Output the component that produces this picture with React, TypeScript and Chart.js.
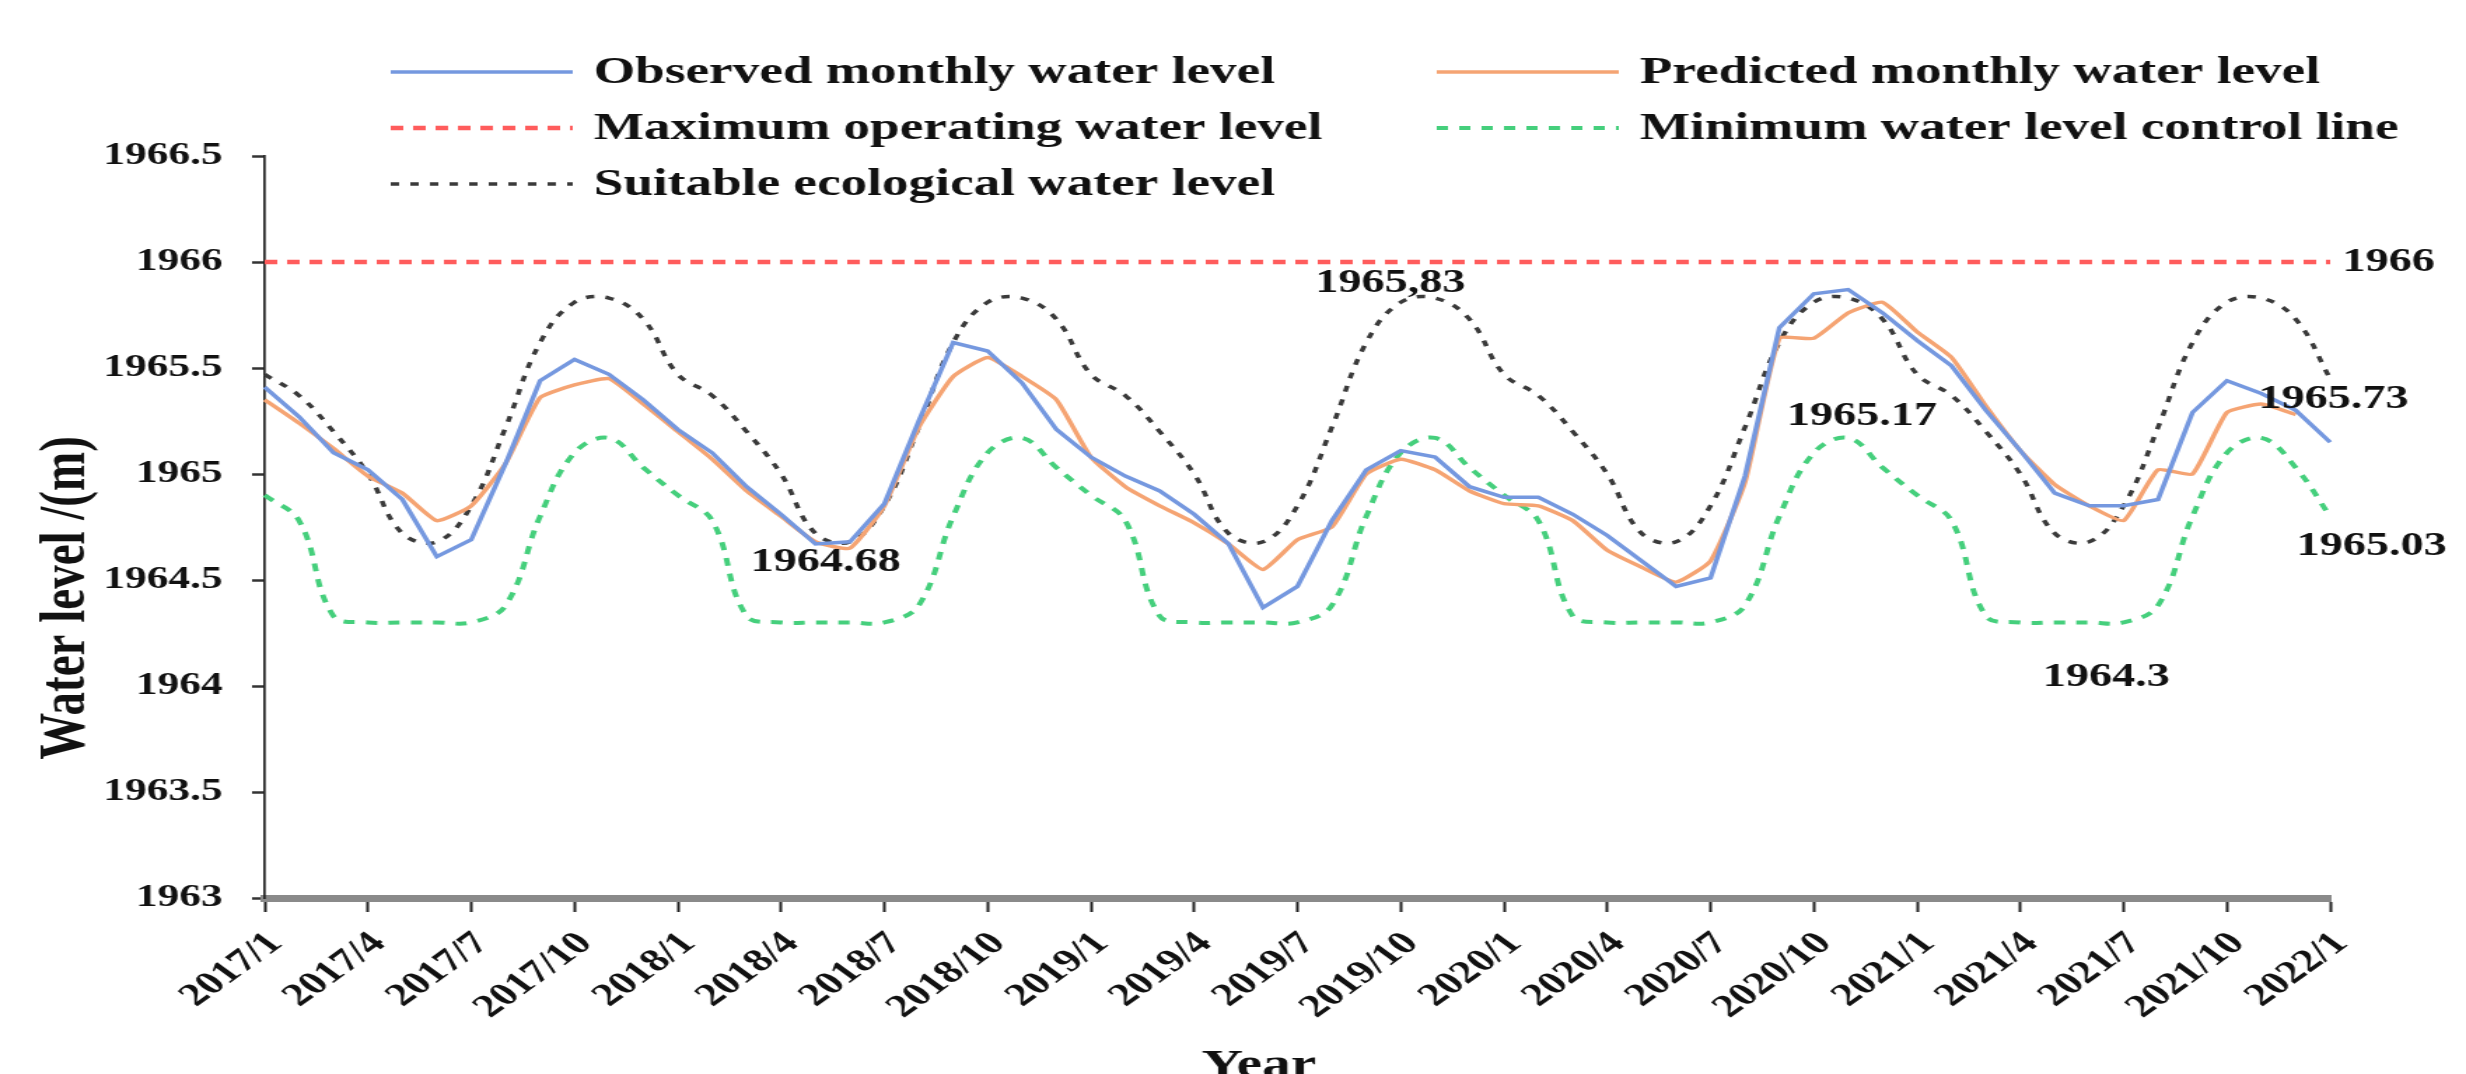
import React, { useEffect, useRef } from 'react';
import { Chart, registerables } from 'chart.js';

Chart.register(...registerables);

// ---------------- data ----------------
const MONTHS: string[] = [
  '2017/1', '2017/2', '2017/3', '2017/4', '2017/5', '2017/6', '2017/7', '2017/8', '2017/9', '2017/10', '2017/11', '2017/12',
  '2018/1', '2018/2', '2018/3', '2018/4', '2018/5', '2018/6', '2018/7', '2018/8', '2018/9', '2018/10', '2018/11', '2018/12',
  '2019/1', '2019/2', '2019/3', '2019/4', '2019/5', '2019/6', '2019/7', '2019/8', '2019/9', '2019/10', '2019/11', '2019/12',
  '2020/1', '2020/2', '2020/3', '2020/4', '2020/5', '2020/6', '2020/7', '2020/8', '2020/9', '2020/10', '2020/11', '2020/12',
  '2021/1', '2021/2', '2021/3', '2021/4', '2021/5', '2021/6', '2021/7', '2021/8', '2021/9', '2021/10', '2021/11', '2021/12',
  '2022/1',
];

const OBSERVED: number[] = [
  1965.41, 1965.27, 1965.10, 1965.02, 1964.88, 1964.61, 1964.69, 1965.05, 1965.44, 1965.54, 1965.47, 1965.35,
  1965.21, 1965.10, 1964.94, 1964.81, 1964.67, 1964.68, 1964.86, 1965.25, 1965.62, 1965.58, 1965.43, 1965.21,
  1965.08, 1964.99, 1964.92, 1964.81, 1964.67, 1964.37, 1964.47, 1964.78, 1965.02, 1965.11, 1965.08, 1964.94,
  1964.89, 1964.89, 1964.81, 1964.71, 1964.59, 1964.47, 1964.51, 1964.99, 1965.69, 1965.85, 1965.87, 1965.76,
  1965.63, 1965.51, 1965.30, 1965.11, 1964.91, 1964.85, 1964.85, 1964.88, 1965.29, 1965.44, 1965.38, 1965.30,
  1965.15,
];

const PREDICTED: (number | null)[] = [
  1965.35, 1965.24, 1965.12, 1964.99, 1964.91, 1964.78, 1964.85, 1965.05, 1965.36, 1965.42, 1965.45, 1965.33,
  1965.20, 1965.07, 1964.92, 1964.80, 1964.68, 1964.65, 1964.85, 1965.22, 1965.46, 1965.55, 1965.46, 1965.35,
  1965.08, 1964.94, 1964.85, 1964.77, 1964.67, 1964.55, 1964.69, 1964.75, 1965.00, 1965.07, 1965.02, 1964.92,
  1964.86, 1964.85, 1964.78, 1964.64, 1964.56, 1964.49, 1964.59, 1964.96, 1965.64, 1965.64, 1965.76, 1965.81,
  1965.67, 1965.55, 1965.32, 1965.11, 1964.95, 1964.85, 1964.78, 1965.02, 1965.00, 1965.29, 1965.33, 1965.28,
  null,
];

const MAX_OPERATING: number[] = [
  1966, 1966, 1966, 1966, 1966, 1966, 1966, 1966, 1966, 1966, 1966, 1966,
  1966, 1966, 1966, 1966, 1966, 1966, 1966, 1966, 1966, 1966, 1966, 1966,
  1966, 1966, 1966, 1966, 1966, 1966, 1966, 1966, 1966, 1966, 1966, 1966,
  1966, 1966, 1966, 1966, 1966, 1966, 1966, 1966, 1966, 1966, 1966, 1966,
  1966, 1966, 1966, 1966, 1966, 1966, 1966, 1966, 1966, 1966, 1966, 1966,
  1966,
];

const MIN_CONTROL: number[] = [
  1964.90, 1964.78, 1964.33, 1964.30, 1964.30, 1964.30, 1964.30, 1964.38, 1964.80, 1965.10, 1965.17, 1965.03,
  1964.90, 1964.78, 1964.33, 1964.30, 1964.30, 1964.30, 1964.30, 1964.38, 1964.80, 1965.10, 1965.17, 1965.03,
  1964.90, 1964.78, 1964.33, 1964.30, 1964.30, 1964.30, 1964.30, 1964.38, 1964.80, 1965.10, 1965.17, 1965.03,
  1964.90, 1964.78, 1964.33, 1964.30, 1964.30, 1964.30, 1964.30, 1964.38, 1964.80, 1965.10, 1965.17, 1965.03,
  1964.90, 1964.78, 1964.33, 1964.30, 1964.30, 1964.30, 1964.30, 1964.38, 1964.80, 1965.10, 1965.17, 1965.03,
  1964.80,
];

const SUITABLE: number[] = [
  1965.47, 1965.37, 1965.20, 1965.00, 1964.72, 1964.68, 1964.85, 1965.22, 1965.62, 1965.81, 1965.83, 1965.73,
  1965.47, 1965.37, 1965.20, 1965.00, 1964.72, 1964.68, 1964.85, 1965.22, 1965.62, 1965.81, 1965.83, 1965.73,
  1965.47, 1965.37, 1965.20, 1965.00, 1964.72, 1964.68, 1964.85, 1965.22, 1965.62, 1965.81, 1965.83, 1965.73,
  1965.47, 1965.37, 1965.20, 1965.00, 1964.72, 1964.68, 1964.85, 1965.22, 1965.62, 1965.81, 1965.83, 1965.73,
  1965.47, 1965.37, 1965.20, 1965.00, 1964.72, 1964.68, 1964.85, 1965.22, 1965.62, 1965.81, 1965.83, 1965.73,
  1965.45,
];

const Y_TICKS: number[] = [1963, 1963.5, 1964, 1964.5, 1965, 1965.5, 1966, 1966.5];

const SERIES_LABELS: string[] = [
  'Observed monthly water level',
  'Predicted monthly water level',
  'Maximum operating water level',
  'Minimum water level control line',
  'Suitable ecological water level',
];

const ANNOTATION_TEXTS: string[] = ['1964.68', '1965,83', '1966', '1965.17', '1965.73', '1965.03', '1964.3'];
// anchor of each annotation in data units (month index, water level)
const ANNOTATION_MONTH: number[] = [16.3, 32.7, 61.7, 46.4, 60.1, 61.2, 53.5];
const ANNOTATION_LEVEL: number[] = [1964.585, 1965.9, 1966.0, 1965.27, 1965.35, 1964.66, 1964.04];

// ---------------- layout / style ----------------
const VIEW_W = 2466;
const VIEW_H = 1074;
const STRETCH = 1.4; // reference figure is horizontally stretched
const CANVAS_W = Math.round(VIEW_W / STRETCH);
const CANVAS_H = VIEW_H;
const FONT = "'Liberation Serif', 'Times New Roman', serif";

const overlayPlugin = {
  id: 'overlay',
  afterDraw(chart: any) {
    const ctx: CanvasRenderingContext2D = chart.ctx;
    const xs = chart.scales.x;
    const ys = chart.scales.y;
    ctx.save();

    // legend (2 columns grid)
    const colX = [279, 1026];
    const rowY = [72, 128, 184];
    const lineLen = 130;
    chart.data.datasets.forEach((ds: any, i: number) => {
      const col = i % 2;
      const row = Math.floor(i / 2);
      const x0 = colX[col];
      const y = rowY[row];
      ctx.save();
      ctx.strokeStyle = ds.borderColor;
      ctx.lineWidth = ds.borderWidth;
      ctx.setLineDash(ds.borderDash || []);
      ctx.beginPath();
      ctx.moveTo(x0, y);
      ctx.lineTo(x0 + lineLen, y);
      ctx.stroke();
      ctx.restore();
      ctx.fillStyle = '#111';
      ctx.font = `bold 38px ${FONT}`;
      ctx.textAlign = 'left';
      ctx.textBaseline = 'middle';
      ctx.fillText(ds.label, x0 + lineLen + 15, y + 1);
    });

    // value annotations
    ctx.font = `bold 33px ${FONT}`;
    ctx.fillStyle = '#111';
    ctx.textAlign = 'center';
    ctx.textBaseline = 'middle';
    ANNOTATION_TEXTS.forEach((t, i) => {
      const px = xs.getPixelForValue(ANNOTATION_MONTH[i]);
      const py = ys.getPixelForValue(ANNOTATION_LEVEL[i]);
      ctx.fillText(t, px, py);
    });

    // axis titles
    ctx.font = `bold 47px ${FONT}`;
    ctx.save();
    ctx.translate(48, 598);
    ctx.rotate(-Math.PI / 2);
    ctx.textAlign = 'center';
    ctx.textBaseline = 'middle';
    ctx.fillText('Water level /(m)', 0, 0);
    ctx.restore();

    ctx.font = `bold 41px ${FONT}`;
    ctx.textAlign = 'center';
    ctx.textBaseline = 'alphabetic';
    ctx.fillText('Year', 899, 1077);

    ctx.restore();
  },
};

export default function App() {
  const ref = useRef<HTMLCanvasElement>(null);

  useEffect(() => {
    document.body.style.margin = '0';
    const canvas = ref.current;
    if (!canvas) return;

    const chart = new Chart(canvas, {
      type: 'line',
      data: {
        labels: MONTHS,
        datasets: [
          {
            label: SERIES_LABELS[0],
            data: OBSERVED,
            borderColor: '#7598df',
            borderWidth: 3.5,
            pointRadius: 0,
            tension: 0,
            fill: false,
          },
          {
            label: SERIES_LABELS[1],
            data: PREDICTED,
            borderColor: '#f5a473',
            borderWidth: 3.5,
            pointRadius: 0,
            tension: 0.15,
            fill: false,
          },
          {
            label: SERIES_LABELS[2],
            data: MAX_OPERATING,
            borderColor: '#ff5c5c',
            borderWidth: 4.5,
            borderDash: [9, 7],
            pointRadius: 0,
            tension: 0,
            fill: false,
          },
          {
            label: SERIES_LABELS[3],
            data: MIN_CONTROL,
            borderColor: '#45cf7c',
            borderWidth: 4,
            borderDash: [8, 8],
            pointRadius: 0,
            tension: 0.4,
            fill: false,
          },
          {
            label: SERIES_LABELS[4],
            data: SUITABLE,
            borderColor: '#3a3a3a',
            borderWidth: 3.5,
            borderDash: [6, 8],
            pointRadius: 0,
            tension: 0.4,
            fill: false,
          },
        ],
      },
      options: {
        responsive: false,
        maintainAspectRatio: false,
        devicePixelRatio: 1,
        animation: false,
        layout: { padding: { top: 156, right: CANVAS_W - 1664, bottom: 0, left: 0 } },
        plugins: {
          legend: { display: false },
          tooltip: { enabled: false },
          title: { display: false },
        },
        scales: {
          x: {
            type: 'category',
            offset: false,
            afterFit: (s: any) => {
              s.height = CANVAS_H - 898;
            },
            grid: {
              display: true,
              drawOnChartArea: false,
              drawTicks: true,
              tickLength: 14,
              tickWidth: 2,
              tickColor: (c: any) => (c.index % 3 === 0 ? '#222' : 'rgba(0,0,0,0)'),
            },
            border: { display: true, color: '#8a8a8a', width: 7 },
            ticks: {
              autoSkip: false,
              maxRotation: 45,
              minRotation: 45,
              padding: 13,
              labelOffset: 8,
              color: '#111',
              font: { family: FONT, size: 32, weight: 'bold' },
              callback: (_v: any, i: number) => (i % 3 === 0 ? MONTHS[i] : ''),
            },
          },
          y: {
            type: 'linear',
            min: 1963,
            max: 1966.5,
            afterFit: (s: any) => {
              s.width = 189;
            },
            afterBuildTicks: (s: any) => {
              s.ticks = Y_TICKS.map((v) => ({ value: v }));
            },
            grid: {
              display: true,
              drawOnChartArea: false,
              drawTicks: true,
              tickLength: 9,
              tickWidth: 2.5,
              tickColor: '#333',
            },
            border: { display: true, color: '#222', width: 1.7 },
            ticks: {
              padding: 21,
              color: '#111',
              font: { family: FONT, size: 31, weight: 'bold' },
              callback: (v: any) => String(v),
            },
          },
        },
      },
      plugins: [overlayPlugin],
    } as any);

    return () => chart.destroy();
  }, []);

  return (
    <div style={{ width: VIEW_W, height: VIEW_H, overflow: 'hidden', background: '#fff' }}>
      <canvas
        ref={ref}
        width={CANVAS_W}
        height={CANVAS_H}
        style={{ width: `${VIEW_W}px`, height: `${VIEW_H}px`, display: 'block' }}
      />
    </div>
  );
}
